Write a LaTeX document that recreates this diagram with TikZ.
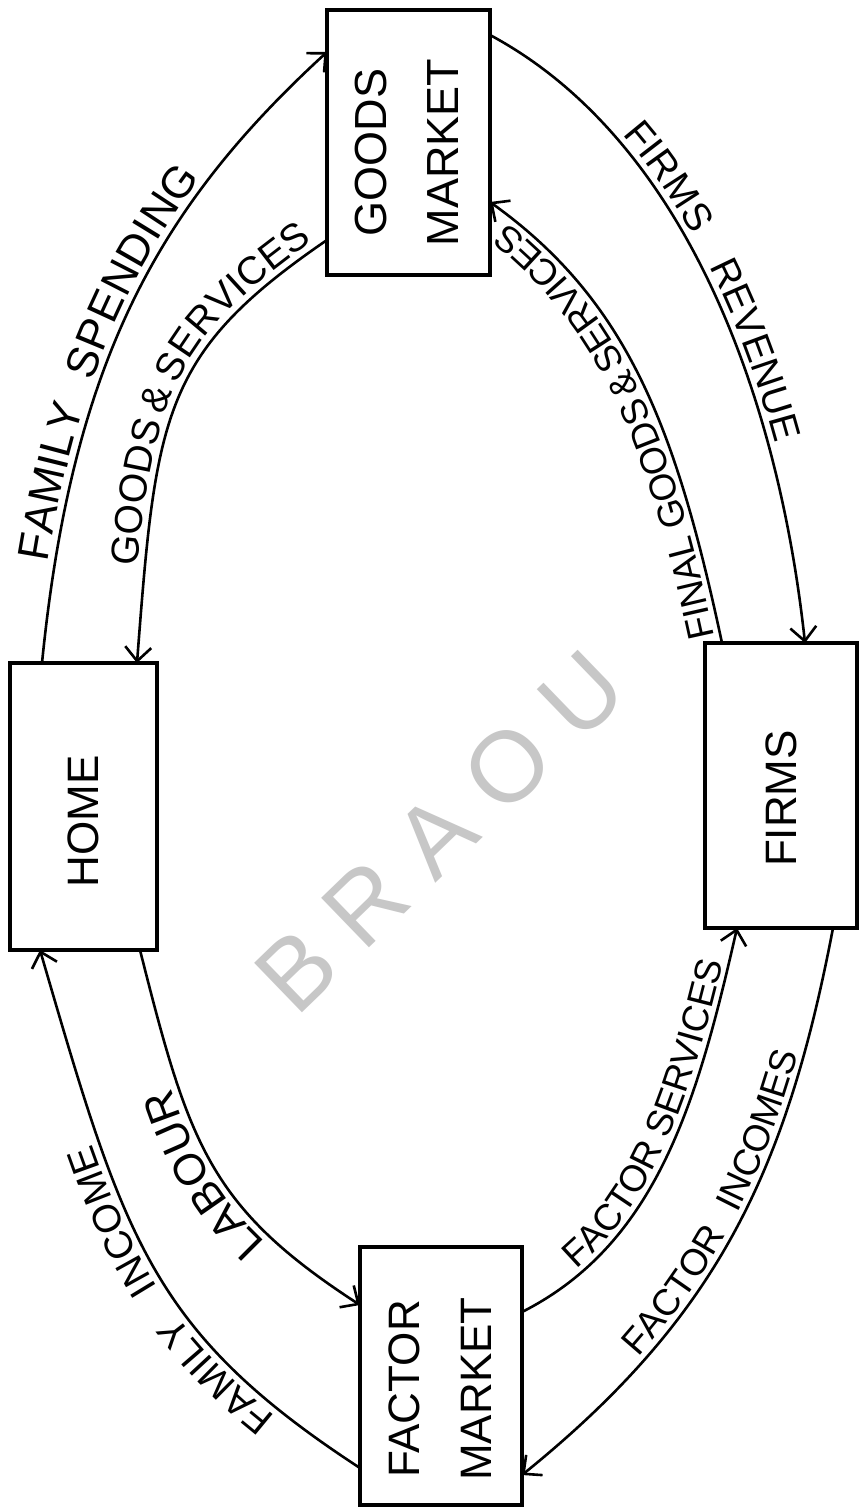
\documentclass[tikz,border=0pt]{standalone}
\usepackage{fontspec}
\setmainfont{Liberation Sans}
\newfontfamily\lsfam[LetterSpace=6]{Liberation Sans}
\usetikzlibrary{arrows.meta,decorations.text}
\newcommand\boxfont{\fontsize{44}{72}\selectfont}
\newcommand\bigboxfont{\fontsize{45}{72}\selectfont}
\newcommand\lblA{\lsfam\fontsize{44}{50}\selectfont}
\newcommand\lblC{\lsfam\fontsize{39}{46}\selectfont}
\newcommand\lblB{\fontsize{37}{44}\selectfont}
\newcommand\lblD{\fontsize{39}{46}\selectfont}
\begin{document}
\begin{tikzpicture}[x=1pt,y=-1pt,
  mbox/.style={draw, line width=3.2pt, inner sep=0pt, outer sep=0pt, font=\boxfont},
  flow/.style={line width=2.6pt, -{Straight Barb[length=14pt,width=26pt,line width=2.6pt]}},
  lbl/.style={decorate, decoration={text along path, text={#1}, raise=7pt}},
]
\useasboundingbox (0,0) rectangle (859,1509);
\fill[white] (0,0) rectangle (859,1509);

% watermark
\node[text=black!22, rotate=44, font=\fontsize{100}{120}\selectfont] (wm) at (440,832) {B R A O U};

% boxes
\node[mbox, font=\bigboxfont, minimum width=163pt, minimum height=265pt] (goods) at (408.5,142.5)
  {\rotatebox{90}{\begin{tabular}{@{}c@{\hspace{20pt}}}GOODS\\MARKET\end{tabular}}};
\node[mbox, minimum width=147pt, minimum height=287pt] (home) at (83.5,806.5)
  {\rotatebox{90}{HOME\hspace{30pt}}};
\node[mbox, minimum width=152pt, minimum height=285pt] (firms) at (781,785.5)
  {\rotatebox{90}{FIRMS\hspace{26pt}}};
\node[mbox, minimum width=162pt, minimum height=258pt] (factor) at (441,1376)
  {\rotatebox{90}{\begin{tabular}{@{}c@{\hspace{26pt}}}FACTOR\\MARKET\end{tabular}}};

% attach points
\coordinate (a1) at ([xshift=32pt]home.north west);
\coordinate (a2) at ([yshift=-42pt]goods.north west);
\coordinate (b1) at ([yshift=-230pt]goods.north west);
\coordinate (b2) at ([xshift=127pt]home.north west);
\coordinate (c1) at ([yshift=-25pt]goods.north east);
\coordinate (c2) at ([xshift=100pt]firms.north west);
\coordinate (d1) at ([xshift=17pt]firms.north west);
\coordinate (d2) at ([yshift=-192pt]goods.north east);
\coordinate (e1) at ([yshift=-65pt]factor.north east);
\coordinate (e2) at ([xshift=32pt]firms.south west);
\coordinate (f1) at ([xshift=128pt]firms.south west);
\coordinate (f2) at ([yshift=-228pt]factor.north east);
\coordinate (g1) at ([yshift=-221pt]factor.north west);
\coordinate (g2) at ([xshift=30pt]home.south west);
\coordinate (h1) at ([xshift=130pt]home.south west);
\coordinate (h2) at ([yshift=-58pt]factor.north west);

% connectors
\draw[flow] (a1) .. controls (72,363) and (157,208) .. (a2);
\draw[flow] (b1) .. controls (162,353) and (156,414) .. (b2);
\draw[flow] (c1) .. controls (684,139) and (778,394) .. (c2);
\draw[flow] (d1) .. controls (676,428) and (628,301) .. (d2);
\draw[flow] (e1) .. controls (656,1244) and (697,1104) .. (e2);
\draw[flow] (f1) .. controls (786,1174) and (716,1318) .. (f2);
\draw[flow] (g1) .. controls (150,1331) and (124,1238) .. (g2);
\draw[flow] (h1) .. controls (189,1144) and (209,1207) .. (h2);

% labels along the arrows
\path[lbl={|\lblA|FAMILY{\hspace{12pt}} SPENDING}, decoration={text align={left indent=100pt}}]
  (a1) .. controls (72,363) and (157,208) .. (a2);
\path[lbl={|\lblD|GOODS{\,}{\&}{\,}SERVICES}, decoration={text align={left indent=96pt}}]
  (b2) .. controls (156,414) and (162,353) .. (b1);
\path[lbl={|\lblC|FIRMS{\hspace{22pt}} REVENUE}, decoration={text align={left indent=165pt}}]
  (c1) .. controls (684,139) and (778,394) .. (c2);
\path[lbl={|\lblB|FINAL GOODS{\,}{\&}{\,}SERVICES}, decoration={text align={left indent=8pt}, raise=6pt}]
  (d1) .. controls (676,428) and (628,301) .. (d2);
\path[lbl={|\lblB|FACTOR SERVICES}, decoration={text align={left indent=70pt}, raise=6pt}]
  (e1) .. controls (656,1244) and (697,1104) .. (e2);
\path[lbl={|\lblB|FACTOR{\hspace{14pt}} INCOMES}, decoration={text align={left indent=166pt}, raise=6pt}]
  (f2) .. controls (716,1318) and (786,1174) .. (f1);
\path[lbl={|\lblC|FAMILY{\hspace{20pt}} INCOME}, decoration={text align={left indent=98pt}}]
  (g1) .. controls (150,1331) and (124,1238) .. (g2);
\path[lbl={|\lblA|LABOUR}, decoration={text align={left indent=112pt}}]
  (h2) .. controls (209,1207) and (189,1144) .. (h1);
\end{tikzpicture}
\end{document}
